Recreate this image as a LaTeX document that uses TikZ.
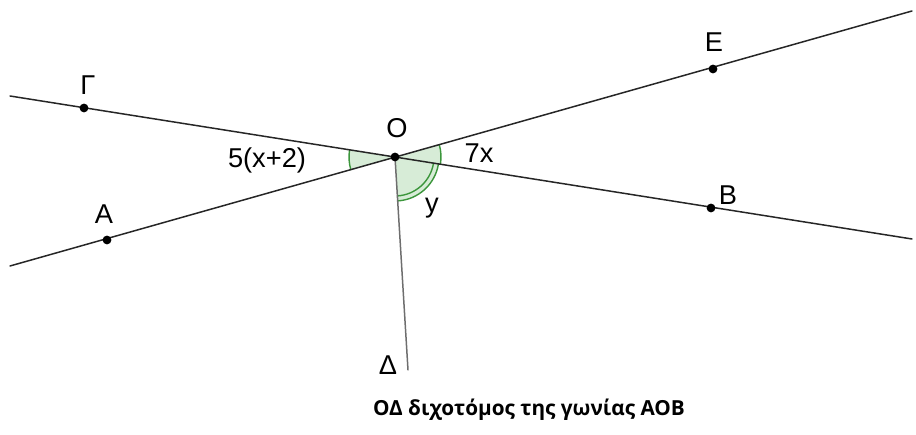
\documentclass[tikz,border=0pt]{standalone}
\usepackage{fontspec}
\setmainfont{Liberation Sans}
\newfontfamily\captionfont{Open Sans}
\usetikzlibrary{angles,calc}
\definecolor{angleedge}{RGB}{60,150,60}
\definecolor{anglefill}{RGB}{215,236,215}
\definecolor{bisgray}{RGB}{110,110,110}
\tikzset{
	pt/.style={circle, fill=black, inner sep=0pt, minimum size=5pt},
	lbl/.style={font=\fontsize{15.5}{18}\selectfont, inner sep=1pt},
	angmark/.style={draw=angleedge, fill=anglefill, line width=0.8pt, angle radius=0.92cm},
}
\begin{document}
\begin{tikzpicture}[line cap=round, line join=round]
	\useasboundingbox (0,0) rectangle (18.32,8.7);
	% points
	\coordinate (O) at (7.90,5.56);
	\coordinate (G) at (1.68,6.54);
	\coordinate (A) at (2.14,3.90);
	\coordinate (E) at (14.26,7.32);
	\coordinate (B) at (14.22,4.54);
	\coordinate (D) at (8.16,1.30);
	\coordinate (g1) at (0.20,6.78);
	\coordinate (b1) at (18.24,3.92);
	\coordinate (a1) at (0.20,3.38);
	\coordinate (e1) at (18.24,8.48);
	% angles
	\pic[angmark] {angle=G--O--A};
	\pic[angmark] {angle=B--O--E};
	\pic[angmark, angle radius=0.88cm] {angle=D--O--B};
	\draw[angleedge, line width=0.8pt] ($(O)+(-86.5:0.78)$) arc[start angle=-86.5, end angle=-9.17, radius=0.78];
	% lines
	\draw[line width=0.85pt, black!85] (g1) -- (b1);
	\draw[line width=0.85pt, black!85] (a1) -- (e1);
	\draw[line width=0.85pt, bisgray] (O) -- (D);
	\foreach \p in {O,G,A,E,B}
		\node[pt] at (\p) {};
	% labels
	\node[lbl] (lO) at (7.94,6.14) {Ο};
	\node[lbl] (lG) at (1.76,7.00) {Γ};
	\node[lbl] (lA) at (2.08,4.42) {Α};
	\node[lbl] (lE) at (14.28,7.86) {Ε};
	\node[lbl] (lB) at (14.56,4.80) {Β};
	\node[lbl] (lD) at (7.76,1.40) {Δ};
	\node[lbl] (x5) at (5.34,5.50) {5(x+2)};
	\node[lbl] (x7) at (9.58,5.64) {7x};
	\node[lbl] (ly) at (8.64,4.54) {y};
	\node[font=\captionfont\bfseries\fontsize{11.8}{14}\selectfont] (cap) at (10.58,0.50) {ΟΔ διχοτόμος της γωνίας ΑΟΒ};
\end{tikzpicture}
\end{document}
